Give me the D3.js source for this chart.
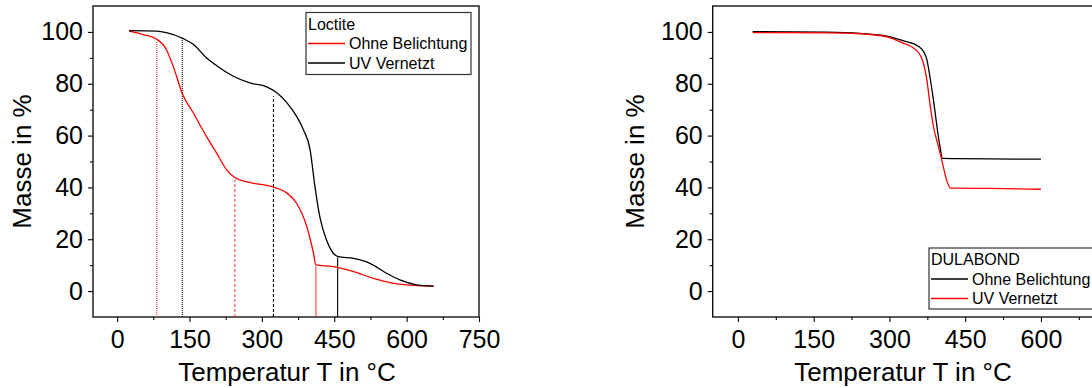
<!DOCTYPE html>
<html>
<head>
<meta charset="utf-8">
<script src="https://cdn.jsdelivr.net/npm/d3@7"></script>
<style>
  body { margin: 0; background: #fff; }
  svg { display: block; font-family: "Liberation Sans", Arial, sans-serif; }
</style>
</head>
<body>
<svg id="chart" width="1092" height="388"></svg>
<script>
// Loctite (left panel)
const loctiteOhneTemp = [25, 54, 82, 102, 116, 136, 158, 185, 206, 227, 244, 275, 324, 352, 372, 393, 407, 412, 448, 490, 531, 573, 614, 656];
const loctiteOhneMass = [100.3, 99, 97.2, 93.2, 86.8, 75.8, 68.7, 59.7, 53.3, 46.8, 43.8, 41.9, 40.1, 37.8, 33.9, 24.9, 14.6, 10.1, 9.4, 7.5, 4.9, 3.0, 2.2, 1.9];
const loctiteUVTemp = [25, 82, 102, 136, 158, 185, 213, 241, 275, 310, 331, 352, 372, 386, 400, 410, 420, 434, 448, 458, 490, 524, 559, 586, 621, 656];
const loctiteUVMass = [100.5, 100.3, 99.7, 97.5, 95.2, 90, 86.1, 82.9, 80.3, 78.8, 76.5, 72.6, 67.4, 62.3, 54.5, 40.3, 28.7, 19.7, 14.6, 13.3, 12.6, 10.7, 6.8, 4.3, 2.4, 1.9];
// vertical marker lines (temperature, mass at top)
const loctiteOhneMarkTemp = [82, 244, 412];
const loctiteOhneMarkMass = [96, 43, 9.6];
const loctiteUVMarkTemp = [135, 324, 457];
const loctiteUVMarkMass = [97.8, 75.2, 13];

// DULABOND (right panel)
const dulaOhneTemp = [29, 176, 242, 295, 328, 357, 367, 374, 380, 387, 394, 400, 405, 430, 500, 600];
const dulaOhneMass = [100.1, 99.9, 99.4, 98.4, 96.5, 94.5, 92.6, 89.4, 82.9, 73.9, 63.6, 55.8, 51.2, 51.1, 51.0, 50.9];
const dulaUVTemp = [29, 176, 242, 295, 328, 347, 360, 367, 374, 380, 387, 397, 405, 413, 421, 500, 600];
const dulaUVMass = [99.7, 99.6, 99.3, 98.1, 95.6, 93.9, 91.3, 88.1, 81.6, 72.6, 63.6, 55.8, 49.4, 42.9, 39.7, 39.6, 39.3];

// ticks
const xTicks = [0, 150, 300, 450, 600, 750];
const xTicksRight = [0, 150, 300, 450, 600]; // 750 falls outside the page
const xMinor = [75, 225, 375, 525, 675];
const yTicks = [0, 20, 40, 60, 80, 100];
const yMinor = [10, 30, 50, 70, 90];

const xTitle = "Temperatur T in °C";
const yTitle = "Masse in %";

const svg = d3.select("#chart");

function zip(t, m) { return t.map((d, i) => ({t: d, m: m[i]})); }

function drawPanel(p) {
  const x = d3.scaleLinear().domain([-50, 750]).range([p.left, p.right]);
  const y = d3.scaleLinear().domain([-10, 110]).range([317, 6]);
  const g = svg.append("g");

  // axes
  g.append("g").attr("transform", "translate(0,317)")
    .call(d3.axisBottom(x).tickValues(p.xTicks).tickSize(5).tickPadding(8).tickSizeOuter(0));
  g.append("g").attr("transform", "translate(0,317)")
    .call(d3.axisBottom(x).tickValues(xMinor).tickSize(3).tickFormat("").tickSizeOuter(0));
  g.append("g").attr("transform", "translate(" + p.left + ",0)")
    .call(d3.axisLeft(y).tickValues(yTicks).tickSize(5).tickPadding(5).tickSizeOuter(0));
  g.append("g").attr("transform", "translate(" + p.left + ",0)")
    .call(d3.axisLeft(y).tickValues(yMinor).tickSize(3).tickFormat("").tickSizeOuter(0));
  g.selectAll(".tick text").attr("font-size", 25).attr("font-family", "Liberation Sans, Arial, sans-serif").attr("fill", "#000");
  g.selectAll(".tick line").attr("stroke-width", 1.1);
  g.selectAll(".domain").remove();

  // frame
  g.append("rect").attr("x", p.left).attr("y", 6)
    .attr("width", p.right - p.left).attr("height", 311)
    .attr("fill", "none").attr("stroke", "#000").attr("stroke-width", 1.3);

  // titles
  g.append("text").attr("x", p.xTitleX).attr("y", 381)
    .attr("text-anchor", "middle").attr("font-size", 26).text(xTitle);
  g.append("text").attr("transform", "translate(" + p.yTitleX + ",161.5) rotate(-90)")
    .attr("text-anchor", "middle").attr("font-size", 26).text(yTitle);

  // markers
  (p.markers || []).forEach(mk => {
    g.selectAll(null).data(zip(mk.t, mk.m)).enter().append("line")
      .attr("x1", d => x(d.t)).attr("x2", d => x(d.t))
      .attr("y1", 317).attr("y2", d => y(d.m))
      .attr("stroke", mk.color).attr("stroke-width", 1.1)
      .attr("stroke-dasharray", (d, i) => mk.dash[i]);
  });

  // curves
  const line = d3.line().x(d => x(d.t)).y(d => y(d.m)).curve(d3.curveMonotoneX);
  p.series.forEach(s => {
    g.append("path").datum(zip(s.t, s.m))
      .attr("d", line).attr("fill", "none")
      .attr("stroke", s.color).attr("stroke-width", 1.3);
  });

  // legend
  const L = p.legend;
  g.append("rect").attr("x", L.x).attr("y", L.y).attr("width", L.w).attr("height", L.h)
    .attr("fill", "#fff").attr("stroke", "#333").attr("stroke-width", 1.2);
  g.append("text").attr("x", L.x + 2).attr("y", L.y + 17).attr("font-size", 16).text(L.title);
  p.series.forEach((s, i) => {
    const ly = L.y + 31 + i * 19.5;
    g.append("line").attr("x1", L.x + 2).attr("x2", L.x + 39).attr("y1", ly).attr("y2", ly)
      .attr("stroke", s.color).attr("stroke-width", 1.3);
    g.append("text").attr("x", L.x + 43).attr("y", ly + 5.5).attr("font-size", 16).text(s.name);
  });
}

drawPanel({
  left: 93, right: 479, yTitleX: 31, xTitleX: 287, xTicks: xTicks,
  series: [
    {name: "Ohne Belichtung", color: "#ff0000", t: loctiteOhneTemp, m: loctiteOhneMass},
    {name: "UV Vernetzt", color: "#000000", t: loctiteUVTemp, m: loctiteUVMass}
  ],
  markers: [
    {color: "#ff4040", t: loctiteOhneMarkTemp, m: loctiteOhneMarkMass, dash: ["1,1", "3,2", null]},
    {color: "#000000", t: loctiteUVMarkTemp, m: loctiteUVMarkMass, dash: ["1,1", "3,2", null]}
  ],
  legend: {x: 306, y: 12.5, w: 165, h: 62, title: "Loctite"}
});

drawPanel({
  left: 712.7, right: 1116.7, yTitleX: 644, xTitleX: 903, xTicks: xTicksRight,
  series: [
    {name: "Ohne Belichtung", color: "#000000", t: dulaOhneTemp, m: dulaOhneMass},
    {name: "UV Vernetzt", color: "#ff0000", t: dulaUVTemp, m: dulaUVMass}
  ],
  legend: {x: 929, y: 248, w: 200, h: 61, title: "DULABOND"}
});
</script>
</body>
</html>
